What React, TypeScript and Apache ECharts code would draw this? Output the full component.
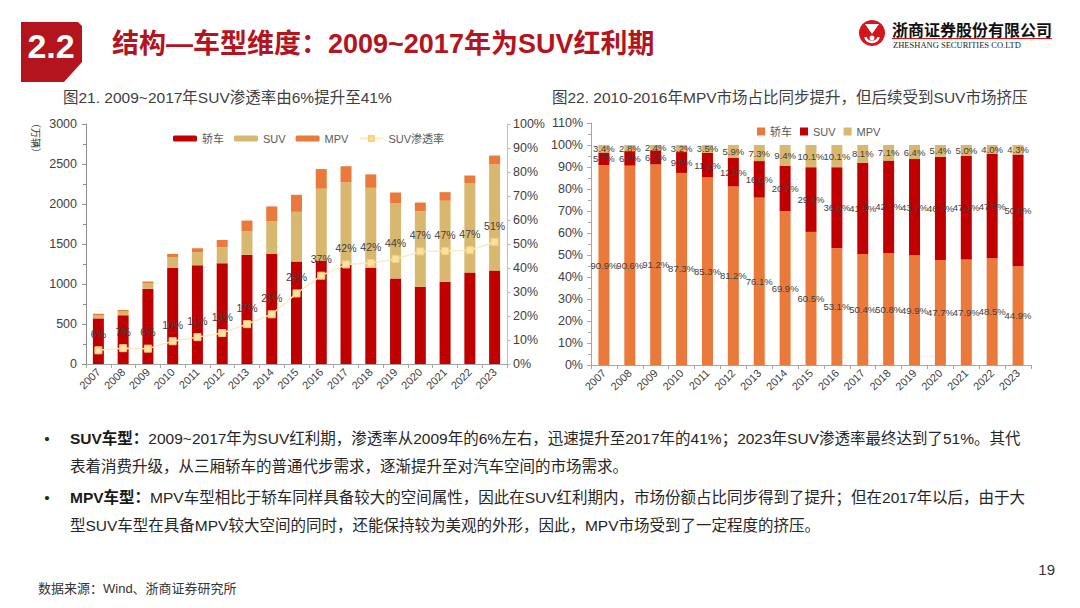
import React, { useEffect, useRef } from "react";
import * as echarts from "echarts";

const years = ["2007", "2008", "2009", "2010", "2011", "2012", "2013", "2014", "2015", "2016", "2017", "2018", "2019", "2020", "2021", "2022", "2023"];

// 图21 (万辆)
const sedanSales = [570, 610, 940, 1201, 1234, 1259, 1364, 1377, 1280, 1294, 1246, 1204, 1070, 963, 1029, 1143, 1170];
const suvSales = [36, 45, 66, 131, 162, 200, 298, 408, 622, 897, 1026, 998, 937, 946, 1012, 1119, 1324];
const mpvSales = [22, 19, 25, 44, 51, 91, 131, 185, 213, 246, 200, 168, 137, 109, 107, 94, 112];
const suvPenetration = [5.7, 6.6, 6.4, 9.5, 11.2, 12.9, 16.6, 20.7, 29.4, 36.8, 41.5, 42.1, 43.7, 46.9, 47.1, 47.4, 50.8];

// 图22 (%)
const sedanShare = [90.9, 90.6, 91.2, 87.3, 85.3, 81.2, 76.1, 69.9, 60.5, 53.1, 50.4, 50.8, 49.9, 47.7, 47.9, 48.5, 44.9];
const suvShare = [5.7, 6.6, 6.4, 9.5, 11.2, 12.9, 16.6, 20.7, 29.4, 36.8, 41.5, 42.1, 43.7, 46.9, 47.1, 47.5, 50.8];
const mpvShare = [3.4, 2.8, 2.4, 3.2, 3.5, 5.9, 7.3, 9.4, 10.1, 10.1, 8.1, 7.1, 6.4, 5.4, 5.0, 4.0, 4.3];

const leftTicks = [0, 3000, 500];
const pctTicksLeft = [0, 100, 10];
const pctTicksRight = [0, 110, 10];

const FONT = '"Liberation Sans", Arial, "Noto Sans CJK SC", sans-serif';
const CJK = '"Noto Sans CJK SC", "Liberation Sans", sans-serif';

const RED = "#C00000";
const TAN = "#D8B76E";
const ORANGE = "#EA7A3B";
const HEAD_RED = "#B3141D";

function txt(x: number, y: number, text: string, opts: any = {}) {
  const { align = "left", vAlign = "middle", rotation, ...style } = opts;
  const el: any = {
    type: "text",
    x,
    y,
    silent: true,
    style: {
      text,
      align,
      verticalAlign: vAlign,
      textAlign: align,
      textVerticalAlign: vAlign,
      fontFamily: FONT,
      fontSize: 15.5,
      fill: "#262626",
      ...style,
    },
  };
  if (rotation !== undefined) el.rotation = rotation;
  return el;
}

export default function App() {
  const ref = useRef<HTMLDivElement>(null);

  useEffect(() => {
    if (!ref.current) return;
    const chart = echarts.init(ref.current, undefined, { renderer: "svg" });

    const axisLabelX = {
      rotate: 45,
      fontSize: 11,
      color: "#404040",
      fontFamily: FONT,
      margin: 6,
      interval: 0,
    };

    const bodyRich = {
      b: { fontFamily: FONT, fontSize: 15.5, fontWeight: "bold", fill: "#1a1a1a", color: "#1a1a1a" },
      n: { fontFamily: FONT, fontSize: 15.5, fill: "#262626", color: "#262626" },
    };

    const graphic: any[] = [
      // header box
      {
        type: "polygon",
        silent: true,
        shape: { points: [[21, 22], [78, 22], [82, 26], [82, 62], [64, 82], [21, 82]] },
        style: { fill: HEAD_RED },
      },
      txt(51, 46, "2.2", { align: "center", fontWeight: "bold", fontSize: 34, fill: "#ffffff" }),
      txt(112, 44, "结构—车型维度：2009~2017年为SUV红利期", { fontWeight: "bold", fontSize: 27, fill: HEAD_RED }),
      // logo
      { type: "circle", silent: true, shape: { cx: 872, cy: 33, r: 13 }, style: { fill: "#D3151C" } },
      { type: "arc", silent: true, shape: { cx: 872, cy: 35, r: 7, startAngle: Math.PI * 0.1, endAngle: Math.PI * 0.9 }, style: { stroke: "#ffffff", lineWidth: 2.5, fill: "none" } },
      { type: "polygon", silent: true, shape: { points: [[865, 24], [879, 24], [872, 34]] }, style: { fill: "#ffffff" } },
      { type: "circle", silent: true, shape: { cx: 872, cy: 38, r: 2.5 }, style: { fill: "#ffffff" } },
      txt(892, 29, "浙商证券股份有限公司", { fontWeight: "bold", fontSize: 16, fill: "#111111", fontFamily: CJK }),
      { type: "line", silent: true, shape: { x1: 892, y1: 38.5, x2: 1052, y2: 38.5 }, style: { stroke: "#D3151C", lineWidth: 1 } },
      txt(893, 45, "ZHESHANG SECURITIES CO.LTD", { fontSize: 8.5, fill: "#222222", fontFamily: '"Liberation Serif", "DejaVu Serif", serif' }),
      // chart titles
      txt(63, 97, "图21. 2009~2017年SUV渗透率由6%提升至41%", { fontSize: 15.5, fill: "#404040" }),
      txt(552, 97, "图22. 2010-2016年MPV市场占比同步提升，但后续受到SUV市场挤压", { fontSize: 15.5, fill: "#404040" }),
      // unit
      txt(36, 138, "（万辆）", { align: "center", fontSize: 10, fill: "#404040", rotation: -Math.PI / 2, fontFamily: CJK }),
      // bullets & body
      txt(47, 438, "•", { fill: "#262626", align: "center" }),
      {
        type: "text",
        x: 70,
        y: 438,
        silent: true,
        style: {
          text: "{b|SUV车型：}{n|2009~2017年为SUV红利期，渗透率从2009年的6%左右，迅速提升至2017年的41%；2023年SUV渗透率最终达到了51%。其代}",
          rich: bodyRich,
          verticalAlign: "middle",
          textVerticalAlign: "middle",
        },
      },
      txt(70, 466, "表着消费升级，从三厢轿车的普通代步需求，逐渐提升至对汽车空间的市场需求。"),
      txt(47, 497, "•", { fill: "#262626", align: "center" }),
      {
        type: "text",
        x: 70,
        y: 497,
        silent: true,
        style: {
          text: "{b|MPV车型：}{n|MPV车型相比于轿车同样具备较大的空间属性，因此在SUV红利期内，市场份额占比同步得到了提升；但在2017年以后，由于大}",
          rich: bodyRich,
          verticalAlign: "middle",
          textVerticalAlign: "middle",
        },
      },
      txt(70, 525, "型SUV车型在具备MPV较大空间的同时，还能保持较为美观的外形，因此，MPV市场受到了一定程度的挤压。"),
      // footer
      txt(38, 588, "数据来源：Wind、浙商证券研究所", { fontSize: 13, fill: "#333333" }),
      txt(1055, 569, "19", { align: "right", fontSize: 15, fill: "#333333" }),
    ];

    const option: any = {
      animation: false,
      backgroundColor: "#ffffff",
      textStyle: { fontFamily: FONT },
      graphic,
      grid: [
        { left: 86, top: 124, width: 421, height: 240, containLabel: false },
        { left: 591, top: 123, width: 440, height: 242, containLabel: false },
      ],
      legend: [
        {
          left: 168,
          top: 128,
          itemWidth: 24,
          itemHeight: 6,
          itemGap: 10,
          textStyle: { fontSize: 11, color: "#595959", fontFamily: FONT },
          data: [
            { name: "轿车", itemStyle: { color: RED } },
            { name: "SUV", itemStyle: { color: TAN } },
            { name: "MPV", itemStyle: { color: ORANGE } },
            { name: "SUV渗透率" },
          ],
        },
        {
          left: 752,
          top: 121,
          itemWidth: 8,
          itemHeight: 8,
          itemGap: 8,
          icon: "rect",
          textStyle: { fontSize: 11, color: "#595959", fontFamily: FONT },
          data: [
            { name: "轿车", itemStyle: { color: ORANGE } },
            { name: "SUV", itemStyle: { color: RED } },
            { name: "MPV", itemStyle: { color: TAN } },
          ],
        },
      ],
      xAxis: [
        {
          type: "category",
          gridIndex: 0,
          data: years,
          axisLine: { lineStyle: { color: "#A6A6A6" } },
          axisTick: { show: true, length: 4, lineStyle: { color: "#A6A6A6" } },
          axisLabel: axisLabelX,
        },
        {
          type: "category",
          gridIndex: 1,
          data: years,
          axisLine: { lineStyle: { color: "#A6A6A6" } },
          axisTick: { show: true, length: 4, lineStyle: { color: "#A6A6A6" } },
          axisLabel: axisLabelX,
        },
      ],
      yAxis: [
        {
          type: "value",
          gridIndex: 0,
          min: leftTicks[0],
          max: leftTicks[1],
          interval: leftTicks[2],
          axisLine: { show: true, lineStyle: { color: "#8C8C8C" } },
          axisTick: { show: true, length: 4, lineStyle: { color: "#8C8C8C" } },
          minorTick: { show: true, splitNumber: 2, length: 3, lineStyle: { color: "#8C8C8C" } },
          splitLine: { show: false },
          axisLabel: { fontSize: 12.5, color: "#404040", fontFamily: FONT, margin: 9, formatter: (v: number) => String(v) },
        },
        {
          type: "value",
          gridIndex: 0,
          position: "right",
          min: pctTicksLeft[0],
          max: pctTicksLeft[1],
          interval: pctTicksLeft[2],
          axisLine: { show: true, lineStyle: { color: "#BFBFBF" } },
          axisTick: { show: true, length: 4, lineStyle: { color: "#BFBFBF" } },
          splitLine: { show: false },
          axisLabel: { fontSize: 12.5, color: "#404040", fontFamily: FONT, margin: 6, formatter: "{value}%" },
        },
        {
          type: "value",
          gridIndex: 1,
          min: pctTicksRight[0],
          max: pctTicksRight[1],
          interval: pctTicksRight[2],
          axisLine: { show: true, lineStyle: { color: "#A6A6A6" } },
          axisTick: { show: true, length: 4, lineStyle: { color: "#A6A6A6" } },
          minorTick: { show: true, splitNumber: 2, length: 3, lineStyle: { color: "#A6A6A6" } },
          splitLine: { show: false },
          axisLabel: { fontSize: 12.5, color: "#404040", fontFamily: FONT, margin: 8, formatter: "{value}%" },
        },
      ],
      series: [
        { type: "bar", name: "轿车", xAxisIndex: 0, yAxisIndex: 0, stack: "L", barWidth: 11, data: sedanSales, itemStyle: { color: RED } },
        { type: "bar", name: "SUV", xAxisIndex: 0, yAxisIndex: 0, stack: "L", barWidth: 11, data: suvSales, itemStyle: { color: TAN } },
        { type: "bar", name: "MPV", xAxisIndex: 0, yAxisIndex: 0, stack: "L", barWidth: 11, data: mpvSales, itemStyle: { color: ORANGE } },
        {
          type: "line",
          name: "SUV渗透率",
          xAxisIndex: 0,
          yAxisIndex: 1,
          data: suvPenetration,
          symbol: "rect",
          symbolSize: 7,
          z: 5,
          lineStyle: { color: "#FCEBC0", width: 1.5 },
          itemStyle: { color: "#FCE2A2", borderColor: "#F6D07E", borderWidth: 1 },
          label: {
            show: true,
            position: "top",
            distance: 7,
            fontSize: 10.5,
            color: "#404040",
            fontFamily: FONT,
            formatter: (p: any) => Math.round(p.value) + "%",
          },
        },
        {
          type: "bar", name: "轿车", xAxisIndex: 1, yAxisIndex: 2, stack: "R", barWidth: 11, data: sedanShare,
          itemStyle: { color: ORANGE },
          label: { show: true, position: "inside", fontSize: 9.5, color: "#404040", fontFamily: FONT, formatter: (p: any) => p.value.toFixed(1) + "%" },
        },
        {
          type: "bar", name: "SUV", xAxisIndex: 1, yAxisIndex: 2, stack: "R", barWidth: 11, data: suvShare,
          itemStyle: { color: RED },
          label: { show: true, position: "inside", fontSize: 9.5, color: "#404040", fontFamily: FONT, formatter: (p: any) => p.value.toFixed(1) + "%" },
        },
        {
          type: "bar", name: "MPV", xAxisIndex: 1, yAxisIndex: 2, stack: "R", barWidth: 11, data: mpvShare,
          itemStyle: { color: TAN },
          label: { show: true, position: "inside", fontSize: 9.5, color: "#404040", fontFamily: FONT, formatter: (p: any) => p.value.toFixed(1) + "%" },
        },
      ],
    };

    chart.setOption(option);
    return () => chart.dispose();
  }, []);

  return (
    <div
      ref={ref}
      style={{ position: "absolute", left: 0, top: 0, width: 1080, height: 608, background: "#ffffff" }}
    />
  );
}
